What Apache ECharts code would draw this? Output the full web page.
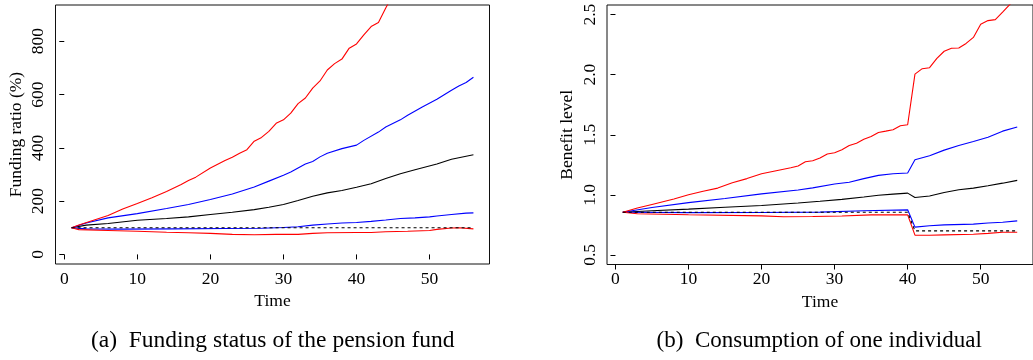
<!DOCTYPE html>
<html>
<head>
<meta charset="utf-8">
<script src="https://cdn.jsdelivr.net/npm/echarts@6/dist/echarts.min.js"></script>
<style>
  html, body { margin: 0; padding: 0; background: #fff; }
  #chart { width: 1033px; height: 360px; }
</style>
</head>
<body>
<div id="chart"></div>
<script>
// (a) Funding ratio of the pension fund, percent; [time, value]
const fundUpper95 = [[1,100],[2,110],[4,128],[6,146],[8,170],[10,191],[12,213],[14,236],[16,262],[17,277],[18,290],[20,324],[22,352],[23,365],[24,380],[25,393],[26,425],[27,439],[28,462],[29,492],[30,505],[31,530],[32,566],[33,587],[34,624],[35,651],[36,692],[37,716],[38,733],[39,774],[40,790],[41,824],[42,855],[43,870],[44,925],[45,975],[46,1010],[48,1090],[50,1180],[52,1270],[54,1370],[56,1470]];
const fundUpper75 = [[1,100],[3,118],[6,137],[10,153],[14,172],[17,187],[20,206],[23,227],[26,253],[28,275],[30,297],[31,309],[32,324],[33,339],[34,349],[35,366],[36,380],[38,397],[40,410],[41,428],[43,459],[44,478],[46,505],[47,522],[49,553],[51,582],[53,616],[54,632],[55,645],[56,665]];
const fundMedian = [[1,100],[3,110],[6,116],[10,128],[14,135],[17,141],[20,150],[23,158],[26,168],[28,177],[30,187],[32,202],[34,218],[36,231],[38,240],[40,252],[42,265],[44,285],[46,303],[48,318],[51,339],[53,357],[56,374]];
const fundLower25 = [[1,100],[3,96],[8,95],[15,96],[22,97],[27,98],[30,101],[32,104],[34,110],[36,114],[38,118],[40,120],[42,124],[44,129],[46,135],[48,137],[50,141],[51,144],[53,150],[55,155],[56,156]];
const fundLower5 = [[1,100],[2,93],[6,90],[10,87],[14,83],[17,81],[20,79],[23,75],[26,74],[29,75],[32,75],[34,79],[36,81],[40,82],[42,82],[44,85],[47,87],[50,90],[51,94],[53,99],[54,100],[56,96]];
const fundInitial = [[1,100],[56,100]];

// (b) Benefit level of one individual; [time, value]
const benUpper95 = [[1,0.855],[3,0.89],[5,0.92],[8,0.965],[10,1.0],[12,1.03],[14,1.056],[16,1.10],[18,1.135],[20,1.175],[22,1.20],[24,1.225],[25,1.24],[26,1.275],[27,1.283],[28,1.306],[29,1.34],[30,1.35],[31,1.375],[32,1.41],[33,1.43],[34,1.462],[35,1.485],[36,1.519],[37,1.53],[38,1.542],[39,1.575],[40,1.583],[41,2.005],[42,2.05],[43,2.058],[44,2.135],[45,2.195],[46,2.22],[47,2.222],[48,2.26],[49,2.31],[50,2.42],[51,2.45],[52,2.458],[53,2.52],[54,2.585],[55,2.64]];
const benUpper75 = [[1,0.855],[5,0.895],[10,0.935],[15,0.97],[20,1.008],[25,1.04],[27,1.058],[30,1.09],[32,1.105],[34,1.135],[36,1.162],[38,1.175],[40,1.181],[41,1.292],[43,1.325],[45,1.372],[47,1.41],[49,1.444],[51,1.48],[53,1.53],[55,1.564]];
const benMedian = [[1,0.855],[5,0.868],[10,0.881],[15,0.896],[20,0.911],[25,0.932],[28,0.946],[31,0.962],[34,0.982],[36,0.996],[38,1.006],[40,1.014],[41,0.978],[43,0.99],[45,1.02],[47,1.042],[49,1.056],[51,1.075],[53,1.097],[55,1.12]];
const benLower25 = [[1,0.855],[10,0.852],[20,0.853],[28,0.856],[34,0.867],[40,0.875],[41,0.731],[43,0.742],[45,0.75],[49,0.756],[51,0.765],[53,0.772],[55,0.783]];
const benLower5 = [[1,0.855],[3,0.842],[10,0.834],[20,0.825],[23,0.817],[27,0.819],[31,0.824],[35,0.833],[40,0.833],[41,0.664],[43,0.664],[45,0.667],[49,0.672],[51,0.679],[53,0.689],[55,0.689]];
const benInitial = [[1,0.855],[40,0.855],[41,0.70],[55,0.70]];

// Tick labels
const timeTicks = [0, 10, 20, 30, 40, 50];
const fundTicks = [0, 200, 400, 600, 800];
const benTicks = [0.5, 1.0, 1.5, 2.0, 2.5];

const captionA = '(a)\u2002Funding status of the pension fund';
const captionB = '(b)\u2002Consumption of one individual';

const FONT = 'Liberation Serif, Times New Roman, serif';
const FS = 17.5;
const RED = '#ff0000', BLUE = '#0000ff', BLACK = '#000000';

function xAxis(gridIndex, min, max) {
  return {
    type: 'value', gridIndex, min, max,
    name: 'Time', nameLocation: 'middle', nameGap: 25,
    nameTextStyle: { fontFamily: FONT, fontSize: FS, color: '#000' },
    axisLine: { show: false },
    axisTick: { show: true, inside: false, length: 5, customValues: timeTicks, lineStyle: { color: '#000', width: 1 } },
    axisLabel: { show: true, customValues: timeTicks, margin: 6, fontFamily: FONT, fontSize: FS, color: '#000' },
    splitLine: { show: false }
  };
}

function yAxis(gridIndex, min, max, ticks, name, nameGap, fmt) {
  return {
    type: 'value', gridIndex, min, max,
    name, nameLocation: 'middle', nameGap,
    nameTextStyle: { fontFamily: FONT, fontSize: FS, color: '#000' },
    axisLine: { show: false },
    axisTick: { show: true, inside: false, length: 5, customValues: ticks, lineStyle: { color: '#000', width: 1 } },
    axisLabel: { show: true, customValues: ticks, rotate: 90, margin: 8, fontFamily: FONT, fontSize: FS, color: '#000', formatter: fmt },
    splitLine: { show: false }
  };
}

function line(data, color, axisIndex, dashed) {
  return {
    type: 'line', data, xAxisIndex: axisIndex, yAxisIndex: axisIndex,
    showSymbol: false, symbol: 'none', smooth: false, clip: true, silent: true,
    lineStyle: { color, width: 1.1, type: dashed ? [3, 3] : 'solid' },
    z: dashed ? 5 : 3
  };
}

const chart = echarts.init(document.getElementById('chart'), null, { renderer: 'canvas' });
chart.setOption({
  animation: false,
  backgroundColor: '#ffffff',
  grid: [
    { left: 55.5, top: 5, width: 434, height: 259, show: true, borderColor: '#111', borderWidth: 1, backgroundColor: 'transparent' },
    { left: 607, top: 5, width: 434, height: 259.5, show: true, borderColor: '#111', borderWidth: 1, backgroundColor: 'transparent' }
  ],
  xAxis: [xAxis(0, -1.2, 58.2), xAxis(1, -1.16, 57.16)],
  yAxis: [
    yAxis(0, -36, 936, fundTicks, 'Funding ratio (%)', 30, v => String(v)),
    yAxis(1, 0.42, 2.58, benTicks, 'Benefit level', 31, v => v.toFixed(1))
  ],
  series: [
    line(fundMedian, BLACK, 0),
    line(fundUpper75, BLUE, 0),
    line(fundLower25, BLUE, 0),
    line(fundUpper95, RED, 0),
    line(fundLower5, RED, 0),
    line(fundInitial, BLACK, 0, true),
    line(benMedian, BLACK, 1),
    line(benUpper75, BLUE, 1),
    line(benLower25, BLUE, 1),
    line(benUpper95, RED, 1),
    line(benLower5, RED, 1),
    line(benInitial, BLACK, 1, true)
  ],
  graphic: [
    { type: 'text', x: 272.7, y: 341, style: { text: captionA, font: '23.5px ' + FONT, fill: '#000', align: 'center', verticalAlign: 'middle' } },
    { type: 'text', x: 819.2, y: 341, style: { text: captionB, font: '23px ' + FONT, fill: '#000', align: 'center', verticalAlign: 'middle' } }
  ]
});
</script>
</body>
</html>
